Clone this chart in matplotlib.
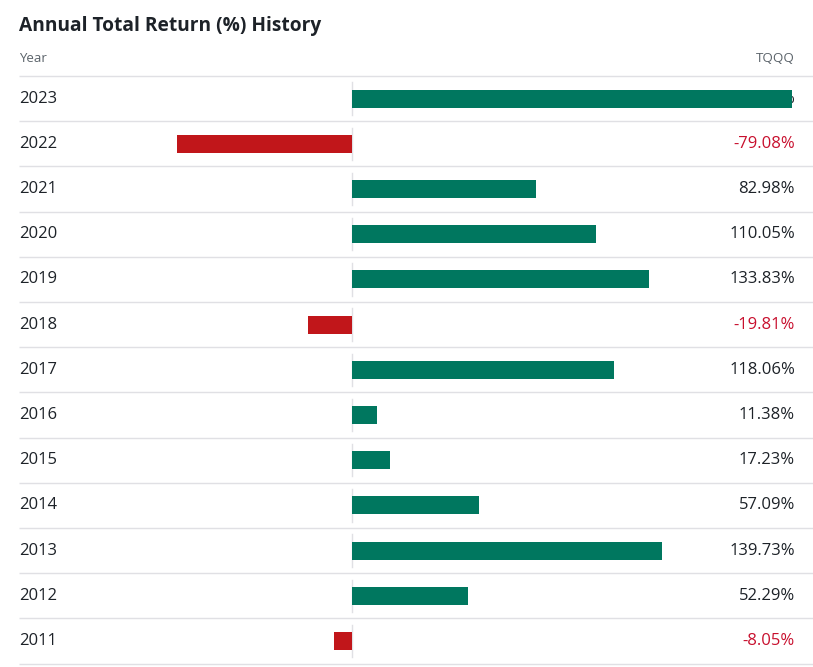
import matplotlib.pyplot as plt
from matplotlib.transforms import blended_transform_factory

years = ['2023', '2022', '2021', '2020', '2019', '2018', '2017',
         '2016', '2015', '2014', '2013', '2012', '2011']
returns = [198.26, -79.08, 82.98, 110.05, 133.83, -19.81, 118.06,
           11.38, 17.23, 57.09, 139.73, 52.29, -8.05]
ticker = 'TQQQ'

GREEN = '#00775f'
RED = '#c1161a'
RED_TXT = '#c8102e'
DARK = '#1d2228'
GREY = '#5b636a'
LINE = '#e0e0e4'

W, H = 813, 667
row_h = 45.2
top = 76.0
zero_px = 352
px_per_pct = 2.218

plt.rcParams['font.family'] = ['Open Sans', 'DejaVu Sans']

fig = plt.figure(figsize=(W / 100, H / 100), dpi=100)
ax = fig.add_axes([0, 0, 1, 1])
ax.set_xlim(-zero_px / px_per_pct, (W - zero_px) / px_per_pct)
ax.set_ylim((H - top) / row_h - 0.5, -top / row_h - 0.5)
ax.axis('off')

# x in figure fraction, y in row units
px = lambda v: v / W
trx = blended_transform_factory(fig.transFigure, ax.transData)

n = len(years)
# row separators
for i in range(n + 1):
    ax.plot([px(19), 1], [i - 0.5, i - 0.5], transform=trx,
            color=LINE, lw=1.0, zorder=1, solid_capstyle='butt')

for i, (yr, val) in enumerate(zip(years, returns)):
    # zero line segment
    ax.plot([0, 0], [i - 0.36, i + 0.36], color=LINE, lw=1.0, zorder=1)
    ax.text(px(19), i, yr, transform=trx, ha='left', va='center',
            fontsize=12, color=DARK, zorder=2)
    ax.text(px(795), i, f'{val:.2f}%', transform=trx, ha='right',
            va='center', fontsize=12, color=RED_TXT if val < 0 else DARK,
            zorder=2)

ax.barh(range(n), returns, height=0.4,
        color=[RED if v < 0 else GREEN for v in returns], zorder=3)

# header
fig.text(px(19), 1 - 58 / H, 'Year', ha='left', va='center',
         fontsize=9.6, color=GREY)
fig.text(px(795), 1 - 58 / H, ticker, ha='right', va='center',
         fontsize=9.6, color=GREY)
fig.text(px(19), 1 - 26 / H, 'Annual Total Return (%) History',
         ha='left', va='center', fontsize=13.8, fontweight='bold',
         color=DARK)

fig.savefig('out.png', dpi=100)
